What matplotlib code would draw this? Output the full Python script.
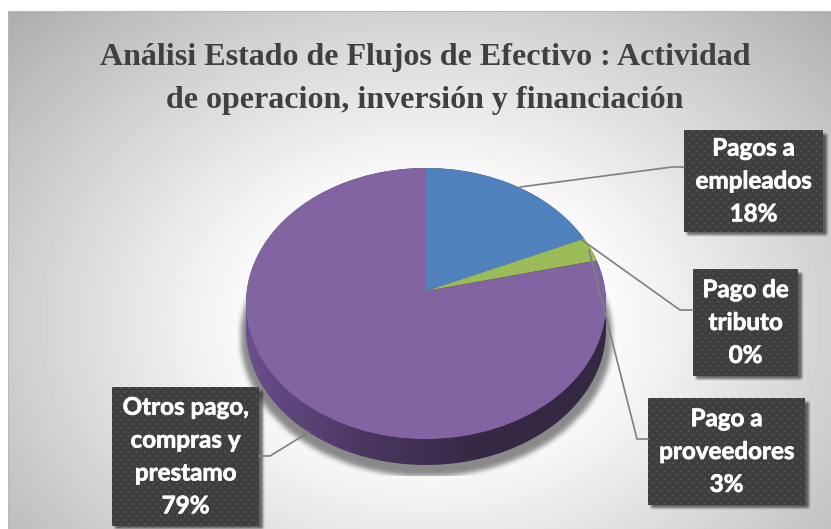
"""Pie chart with a fake 3D wall, drawn on pixel-sized axes."""
import matplotlib
matplotlib.use("Agg")
import matplotlib.patheffects as pe
import matplotlib.pyplot as plt
import numpy as np
from matplotlib.colors import LinearSegmentedColormap
from matplotlib.patches import Ellipse, PathPatch
from matplotlib.path import Path

W, H = 831, 529

title = "Análisi Estado de Flujos de Efectivo : Actividad\nde operacion, inversión y financiación"
names = ["Pagos a\nempleados", "Pago de\ntributo", "Pago a\nproveedores", "Otros pago,\ncompras y\nprestamo"]
shares = [18.4, 0.0, 2.9, 78.7]
colors = ["#4f81bd", "#c0504d", "#9bbb59", "#8264a3"]

# label boxes: left, top, right, bottom in pixels
boxes = [(684, 130, 823, 232), (693, 269, 798, 376), (648, 398, 805, 505), (112, 387, 259, 526)]
leaders = [
    [(520, 187), (672, 167), (684, 167)],
    [(582, 240), (680, 310), (693, 310)],
    [(589, 250), (637, 439), (648, 439)],
    [(309, 432), (270, 456), (259, 456)],
]

# ellipse of the top face, apex sits above its centre because of the perspective
cx, cy, rx, ry = 426, 303.5, 180, 135.5
apex_y = 291
depth = 26


def blur(a, n, passes=3):
    kernel = np.ones(n) / n
    for _ in range(passes):
        a = np.apply_along_axis(lambda r: np.convolve(r, kernel, mode="same"), 0, a)
        a = np.apply_along_axis(lambda r: np.convolve(r, kernel, mode="same"), 1, a)
    return a


fig = plt.figure(figsize=(W / 100, H / 100), dpi=100, facecolor="white")

# background, pixel coordinates
bg = fig.add_axes([0, 0, 1, 1])
yy, xx = np.mgrid[0:H, 0:W]
d = np.sqrt(((xx - 430) / 430) ** 2 + ((yy - 320) / 330) ** 2)
grey = np.clip(1.0 - 0.20 * np.clip((d - 0.35) / 0.65, 0, None) ** 1.1, 0, 1)
grey[:11, :] = 1.0
grey[:, :8] = 1.0
grey[11:12, 8:] = 0.72
grey[11:, 8:9] = 0.72
bg.imshow(grey, cmap="gray", vmin=0, vmax=1, extent=(0, W, H, 0), aspect="auto",
          interpolation="nearest")

# soft shadow of the pie, cut by the plot area like in the original
mask = (((xx - cx) / (rx + 6)) ** 2 + ((yy - (cy + depth + 7)) / (ry + 4)) ** 2 <= 1).astype(float)
shadow = blur(mask, 5) * 0.45
shadow[(yy > 475) | (xx < 237)] = 0
rgba = np.zeros((H, W, 4))
rgba[..., 3] = shadow
bg.imshow(rgba, extent=(0, W, H, 0), aspect="auto", interpolation="bilinear")

# shadow of the label boxes
mask = np.zeros((H, W))
for x0, y0, x1, y1 in boxes:
    mask[y0 + 4:y1 + 3, x0 + 3:x1 + 4] = 1
rgba = np.zeros((H, W, 4))
rgba[..., 3] = blur(mask, 3, 2) * 0.55
bg.imshow(rgba, extent=(0, W, H, 0), aspect="auto", interpolation="bilinear")

# wall of the pie
wall_cmap = LinearSegmentedColormap.from_list("wall", ["#6a4e8e", "#4a3660", "#352842", "#352842"])
grad = np.linspace(0, 1, 400).reshape(1, -1)
wall_im = bg.imshow(grad, cmap=wall_cmap, extent=(cx - rx, cx + rx, cy + ry + depth, cy - ry),
                    aspect="auto")
t = np.linspace(0, 2 * np.pi, 361)
low = np.column_stack([cx + rx * np.cos(t[:181]), cy + depth + ry * np.sin(t[:181])])
high = np.column_stack([cx + rx * np.cos(t[180:]), cy + ry * np.sin(t[180:])])
wall_path = PathPatch(Path(np.vstack([low, high])), transform=bg.transData, fc="none", ec="none")
bg.add_patch(wall_path)
wall_im.set_clip_path(wall_path)

bg.set_xlim(0, W)
bg.set_ylim(H, 0)
bg.axis("off")

# top face: real pie around the apex, clipped to the ellipse
pie_ax = fig.add_axes([(cx - rx) / W, 1 - (cy + ry) / H, 2 * rx / W, 2 * ry / H])
wedges, _ = pie_ax.pie(shares, colors=colors, startangle=90, counterclock=False, radius=1.4,
                       center=(0, (cy - apex_y) / ry), wedgeprops={"linewidth": 0})
pie_ax.set_aspect("auto")
pie_ax.set_xlim(-1, 1)
pie_ax.set_ylim(-1, 1)
clip = Ellipse((0, 0), 2, 2, transform=pie_ax.transData)
for w in wedges:
    # pie() turns clipping off on its wedges
    w.set_clip_on(True)
    w.set_clip_path(clip)
pie_ax.axis("off")

# leaders, boxes and text on top
top = fig.add_axes([0, 0, 1, 1])
top.patch.set_alpha(0)
for pts in leaders:
    xs, ys = zip(*pts)
    top.plot(xs, ys, color="#7f7f7f", lw=1.2, solid_joinstyle="miter")

for (x0, y0, x1, y1), name, v in zip(boxes, names, shares):
    by, bx = np.mgrid[y0:y1, x0:x1]
    dots = (((bx - x0) % 8 < 2) & ((by - y0) % 8 < 2)) | (((bx - x0 + 4) % 8 < 2) & ((by - y0 + 4) % 8 < 2))
    tile = np.where(dots, 0.31, 0.245)
    top.imshow(tile, cmap="gray", vmin=0, vmax=1, extent=(x0, x1, y1, y0), aspect="auto",
               interpolation="bilinear")
    top.text((x0 + x1) / 2, (y0 + y1) / 2, f"{name}\n{v:.0f}%", ha="center", va="center",
             color="white", family="Lato", weight="bold", fontsize=17.4, linespacing=1.52,
             path_effects=[pe.withStroke(linewidth=0.5, foreground="white")])

top.text(425, 79, title, ha="center", va="center", color="#404040", family="Liberation Serif",
         weight="bold", fontsize=23, linespacing=1.66)
top.set_xlim(0, W)
top.set_ylim(H, 0)
top.axis("off")

fig.savefig("out.png", dpi=100)
plt.close(fig)
